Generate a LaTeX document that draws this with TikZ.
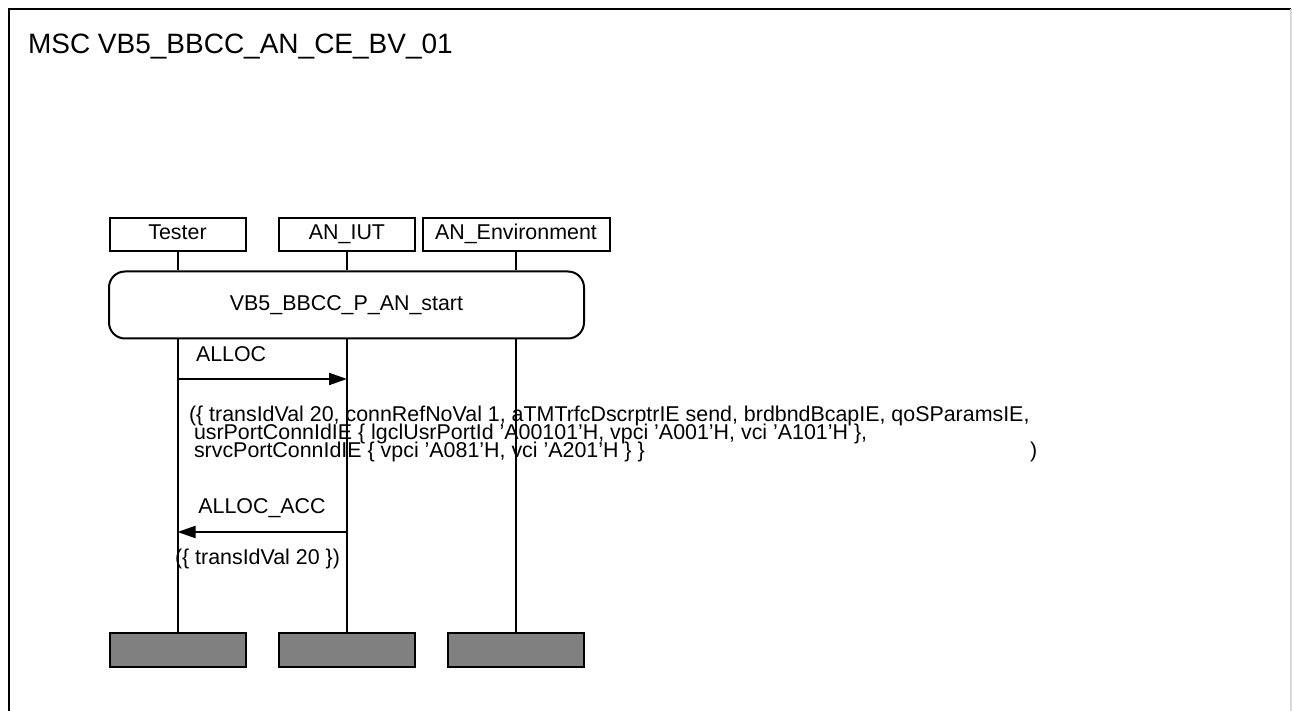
\documentclass[tikz,border=0pt]{standalone}
\usepackage{fontspec}
\setmainfont{Liberation Sans}
\usetikzlibrary{positioning, arrows.meta}
\setlength{\lineskiplimit}{-20pt}

\begin{document}
\begin{tikzpicture}[
        x=0.5pt, y=-0.5pt,
        line width=1pt,
        head/.style={rectangle, draw, minimum width=68pt, minimum height=16.5pt, inner sep=0pt, text height=7.7pt, text depth=2.2pt, font=\fontsize{10.7}{9}\selectfont},
        refbox/.style={rectangle, draw, rounded corners=8pt, minimum width=237.5pt, minimum height=33.5pt, inner sep=0pt, text height=7.7pt, text depth=2.2pt, font=\fontsize{10.7}{9}\selectfont},
        stopbox/.style={rectangle, draw, fill=black!50, minimum width=68pt, minimum height=17pt, inner sep=0pt},
        label/.style={inner sep=0pt, font=\fontsize{10.7}{9}\selectfont},
        msg/.style={-{Triangle[length=9pt, width=6pt]}},
    ]
        \useasboundingbox (0,0) rectangle (1292,711);
        % Frame
        \draw (9,711) -- (9,9) -- (1291,9);
        \draw[black!15] (1291,9) -- (1291,711);
        \node[label, anchor=base west, font=\fontsize{14}{14}\selectfont] (title) at (27,54) {MSC VB5\_BBCC\_AN\_CE\_BV\_01};

        % Instances
        \node[head] (tester) at (177.5,234.5) {Tester};
        \node[head] (iut) at (347,234.5) {AN\_IUT};
        \node[head, minimum width=93.5pt] (env) at (516,234.5) {AN\_Environment};
        \node[refbox] (start) at (346.5,305) {VB5\_BBCC\_P\_AN\_start};
        \node[stopbox] (testerend) at (177.5,650) {};
        \node[stopbox] (iutend) at (347,650) {};
        \node[stopbox] (envend) at (516,650) {};

        % Lifelines
        \draw (tester) -- (tester |- start.north);
        \draw (iut) -- (iut |- start.north);
        \draw (env) -- (env |- start.north);
        \draw (tester |- start.south) -- (testerend);
        \draw (iut |- start.south) -- (iutend);
        \draw (env |- start.south) -- (envend);

        % Messages
        \coordinate (allocfrom) at (tester |- 0,379);
        \coordinate (allocto) at (iut |- 0,379);
        \draw[msg] (allocfrom) -- (allocto);
        \node[label, anchor=base west] (alloc) at (195,362) {ALLOC};
        \node[label, anchor=base west, align=left] (allocpar) at (188,458) {(\{ transIdVal 20, connRefNoVal 1, aTMTrfcDscrptrIE send, brdbndBcapIE, qoSParamsIE,\\
            \hspace{2.5pt}usrPortConnIdIE \{ lgclUsrPortId ’A00101’H, vpci ’A001’H, vci ’A101’H \},\\
            \hspace{2.5pt}srvcPortConnIdIE \{ vpci ’A081’H, vci ’A201’H \} \}};
        \node[label, anchor=base west] (allocclose) at (1029,458) {)};

        \coordinate (accfrom) at (iut |- 0,532);
        \coordinate (accto) at (tester |- 0,532);
        \draw[msg] (accfrom) -- (accto);
        \node[label, anchor=base] (acc) at (262,514) {ALLOC\_ACC};
        \node[label, anchor=base west] (accpar) at (174,564) {(\{ transIdVal 20 \})};
\end{tikzpicture}
\end{document}
